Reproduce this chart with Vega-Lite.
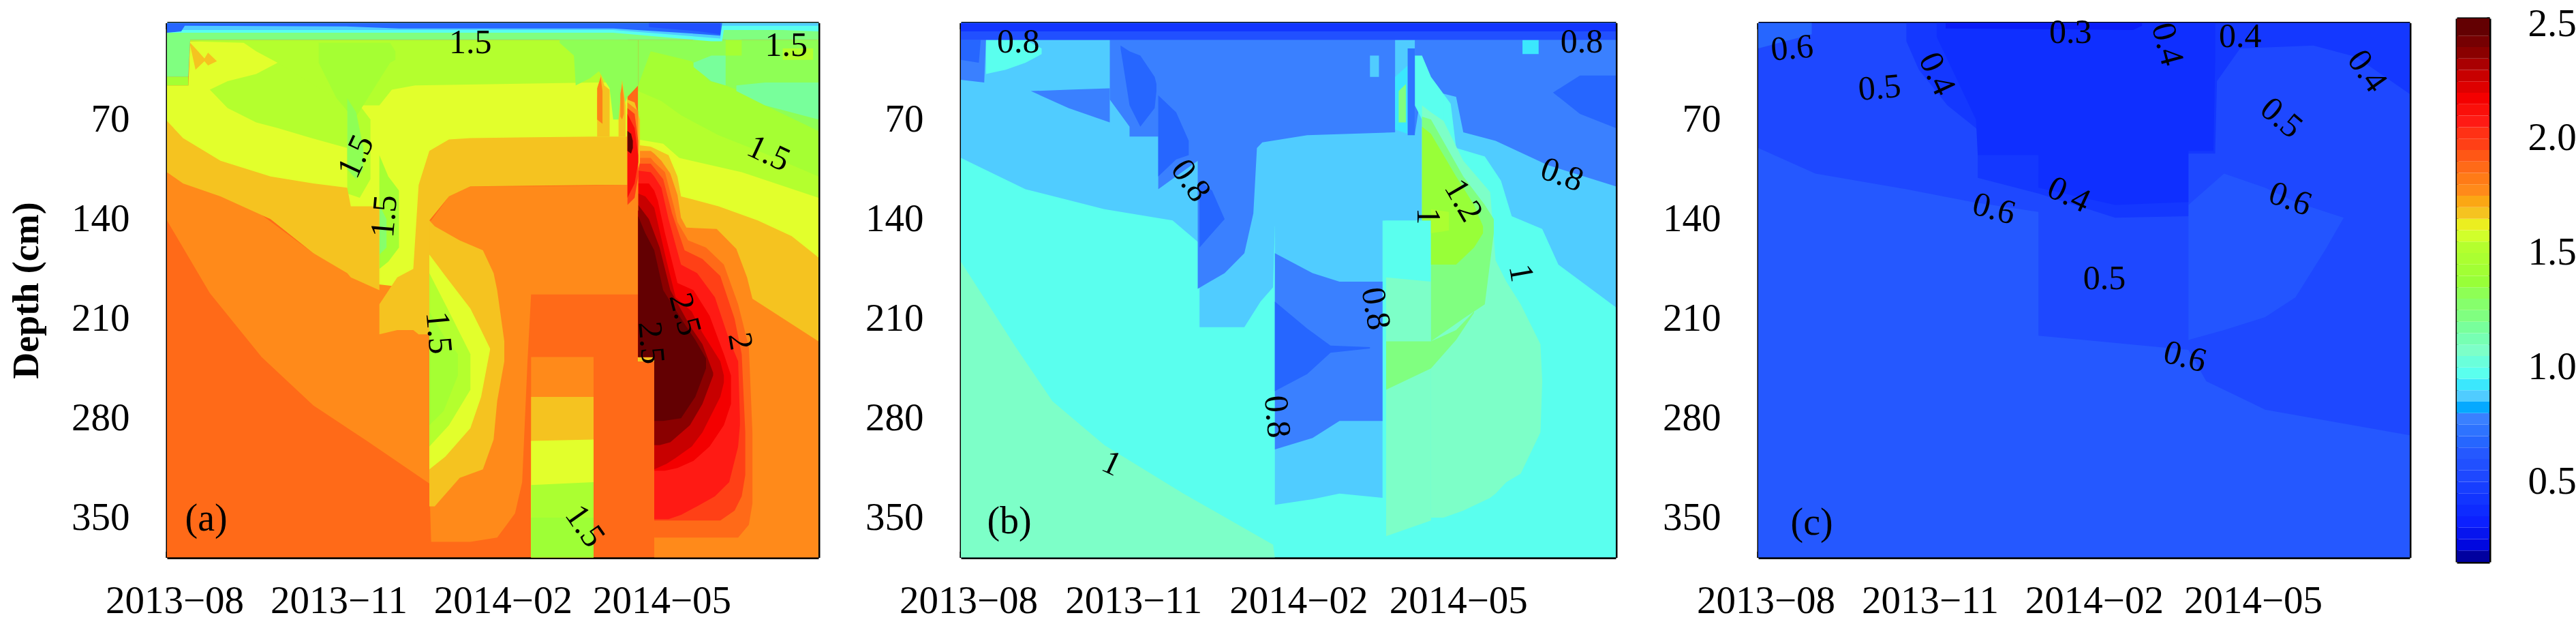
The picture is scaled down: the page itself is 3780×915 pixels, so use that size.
{"$schema":"https://vega.github.io/schema/vega-lite/v6.json","background":"white","padding":{"left":12,"top":6,"right":0,"bottom":0},
"config":{"view":{"stroke":null},"axis":{"grid":false,"labelFont":"Liberation Serif","labelFontSize":57,"labelColor":"black","labelLimit":400,"domainColor":"black","domainWidth":4,"tickColor":"black","tickWidth":4,"zindex":1,"title":null,"labelOverlap":false,"labelBound":false,"labelFlush":false}},
"datasets":{
"a":[
{"r":"a00","v":1.85,"t":"2013-08-01","d0":2,"d1":378},{"r":"a00","v":1.85,"t":"2014-08-01","d0":2,"d1":378},
{"r":"a01","v":1.58,"t":"2013-08-01","d0":46,"d1":120},{"r":"a01","v":1.58,"t":"2013-08-13","d0":46,"d1":120},{"r":"a01","v":1.58,"t":"2013-08-14","d0":15,"d1":120},{"r":"a01","v":1.58,"t":"2013-11-10","d0":15,"d1":135},{"r":"a01","v":1.58,"t":"2013-11-28","d0":15,"d1":205},{"r":"a01","v":1.58,"t":"2013-12-26","d0":15,"d1":205},{"r":"a01","v":1.58,"t":"2013-12-26","d0":15,"d1":100},{"r":"a01","v":1.58,"t":"2014-03-29","d0":15,"d1":90},{"r":"a01","v":1.58,"t":"2014-04-16","d0":15,"d1":90},
{"r":"a02","v":1.5,"t":"2013-08-25","d0":49,"d1":49},{"r":"a02","v":1.5,"t":"2013-09-04","d0":43,"d1":62},{"r":"a02","v":1.5,"t":"2013-09-20","d0":38,"d1":72},{"r":"a02","v":1.5,"t":"2013-10-02","d0":30,"d1":76},{"r":"a02","v":1.5,"t":"2013-10-21","d0":20,"d1":83},{"r":"a02","v":1.5,"t":"2013-11-10","d0":20,"d1":90},
{"r":"a03","v":1.5,"t":"2013-08-14","d0":14,"d1":15},{"r":"a03","v":1.5,"t":"2013-09-13","d0":14,"d1":16},{"r":"a03","v":1.5,"t":"2013-09-20","d0":14,"d1":22},{"r":"a03","v":1.5,"t":"2013-10-02","d0":14,"d1":30},{"r":"a03","v":1.5,"t":"2013-11-10","d0":14,"d1":60},{"r":"a03","v":1.5,"t":"2013-11-28","d0":14,"d1":60},{"r":"a03","v":1.5,"t":"2013-12-05","d0":14,"d1":49},{"r":"a03","v":1.5,"t":"2013-12-18","d0":14,"d1":46},{"r":"a03","v":1.5,"t":"2014-03-29","d0":14,"d1":44},{"r":"a03","v":1.5,"t":"2014-04-16","d0":14,"d1":44},
{"r":"a04","v":1.5,"t":"2013-11-10","d0":50,"d1":122},{"r":"a04","v":1.5,"t":"2013-11-17","d0":60,"d1":125},{"r":"a04","v":1.5,"t":"2013-11-23","d0":70,"d1":112},
{"r":"a05","v":1.42,"t":"2013-10-25","d0":16,"d1":30},{"r":"a05","v":1.42,"t":"2013-11-04","d0":16,"d1":55},{"r":"a05","v":1.42,"t":"2013-11-14","d0":16,"d1":70},{"r":"a05","v":1.42,"t":"2013-12-04","d0":16,"d1":30},{"r":"a05","v":1.42,"t":"2013-12-07","d0":22,"d1":28},
{"r":"a06","v":1.3,"t":"2013-11-10","d0":55,"d1":105},{"r":"a06","v":1.3,"t":"2013-11-15","d0":65,"d1":112},{"r":"a06","v":1.3,"t":"2013-11-19","d0":90,"d1":105},
{"r":"a07","v":1.42,"t":"2013-11-28","d0":95,"d1":175},{"r":"a07","v":1.42,"t":"2013-12-03","d0":110,"d1":170},{"r":"a07","v":1.42,"t":"2013-12-09","d0":120,"d1":160},
{"r":"a08","v":1.25,"t":"2013-11-28","d0":130,"d1":165},{"r":"a08","v":1.25,"t":"2013-12-02","d0":140,"d1":160},
{"r":"a09","v":1.75,"t":"2013-08-01","d0":107,"d1":141},{"r":"a09","v":1.75,"t":"2013-08-25","d0":119,"d1":192},{"r":"a09","v":1.75,"t":"2013-09-23","d0":137,"d1":237},{"r":"a09","v":1.75,"t":"2013-10-22","d0":164,"d1":271},{"r":"a09","v":1.75,"t":"2013-11-21","d0":185,"d1":296},{"r":"a09","v":1.75,"t":"2013-12-26","d0":190,"d1":326},{"r":"a09","v":1.75,"t":"2013-12-26","d0":141,"d1":326},{"r":"a09","v":1.75,"t":"2013-12-27","d0":141,"d1":367},{"r":"a09","v":1.75,"t":"2014-01-06","d0":124,"d1":367},{"r":"a09","v":1.75,"t":"2014-01-18","d0":117,"d1":367},{"r":"a09","v":1.75,"t":"2014-02-02","d0":117,"d1":364},{"r":"a09","v":1.75,"t":"2014-02-12","d0":117,"d1":347},{"r":"a09","v":1.75,"t":"2014-02-16","d0":117,"d1":325},{"r":"a09","v":1.75,"t":"2014-02-19","d0":117,"d1":240},{"r":"a09","v":1.75,"t":"2014-02-21","d0":117,"d1":193},{"r":"a09","v":1.75,"t":"2014-04-22","d0":116,"d1":193},
{"r":"a10","v":1.65,"t":"2013-08-01","d0":71,"d1":107},{"r":"a10","v":1.65,"t":"2013-08-10","d0":83,"d1":115},{"r":"a10","v":1.65,"t":"2013-08-31","d0":99,"d1":124},{"r":"a10","v":1.65,"t":"2013-09-28","d0":110,"d1":140},{"r":"a10","v":1.65,"t":"2013-10-22","d0":115,"d1":164},{"r":"a10","v":1.65,"t":"2013-11-10","d0":118,"d1":178},{"r":"a10","v":1.65,"t":"2013-11-12","d0":131,"d1":181},{"r":"a10","v":1.65,"t":"2013-11-28","d0":131,"d1":190},{"r":"a10","v":1.65,"t":"2013-11-28","d0":200,"d1":221},{"r":"a10","v":1.65,"t":"2013-12-08","d0":181,"d1":218},{"r":"a10","v":1.65,"t":"2013-12-17","d0":175,"d1":218},{"r":"a10","v":1.65,"t":"2013-12-20","d0":116,"d1":221},{"r":"a10","v":1.65,"t":"2013-12-26","d0":92,"d1":221},{"r":"a10","v":1.65,"t":"2013-12-26","d0":92,"d1":141},{"r":"a10","v":1.65,"t":"2014-01-06","d0":84,"d1":124},{"r":"a10","v":1.65,"t":"2014-01-18","d0":83,"d1":117},{"r":"a10","v":1.65,"t":"2014-03-29","d0":82,"d1":116},{"r":"a10","v":1.65,"t":"2014-04-16","d0":82,"d1":116},
{"r":"a11","v":1.65,"t":"2013-12-26","d0":141,"d1":342},{"r":"a11","v":1.65,"t":"2013-12-29","d0":145,"d1":342},{"r":"a11","v":1.65,"t":"2014-01-12","d0":155,"d1":322},{"r":"a11","v":1.65,"t":"2014-01-25","d0":162,"d1":316},{"r":"a11","v":1.65,"t":"2014-01-31","d0":178,"d1":295},{"r":"a11","v":1.65,"t":"2014-02-02","d0":190,"d1":268},{"r":"a11","v":1.65,"t":"2014-02-06","d0":226,"d1":240},
{"r":"a12","v":1.58,"t":"2013-12-26","d0":165,"d1":316},{"r":"a12","v":1.58,"t":"2014-01-04","d0":180,"d1":307},{"r":"a12","v":1.58,"t":"2014-01-18","d0":203,"d1":287},{"r":"a12","v":1.58,"t":"2014-01-24","d0":218,"d1":265},{"r":"a12","v":1.58,"t":"2014-01-29","d0":231,"d1":232},
{"r":"a13","v":1.5,"t":"2013-12-26","d0":178,"d1":300},{"r":"a13","v":1.5,"t":"2014-01-06","d0":205,"d1":285},{"r":"a13","v":1.5,"t":"2014-01-18","d0":235,"d1":260},
{"r":"a14","v":1.42,"t":"2013-12-26","d0":205,"d1":285},{"r":"a14","v":1.42,"t":"2014-01-03","d0":222,"d1":275},{"r":"a14","v":1.42,"t":"2014-01-11","d0":235,"d1":250},
{"r":"a15","v":1.75,"t":"2014-02-21","d0":237,"d1":378},{"r":"a15","v":1.75,"t":"2014-03-28","d0":237,"d1":378},
{"r":"a16","v":1.65,"t":"2014-02-21","d0":265,"d1":378},{"r":"a16","v":1.65,"t":"2014-03-28","d0":265,"d1":378},
{"r":"a17","v":1.58,"t":"2014-02-21","d0":296,"d1":378},{"r":"a17","v":1.58,"t":"2014-03-28","d0":295,"d1":378},
{"r":"a18","v":1.45,"t":"2014-02-21","d0":327,"d1":378},{"r":"a18","v":1.45,"t":"2014-03-28","d0":325,"d1":378},
{"r":"a19","v":1.38,"t":"2014-02-21","d0":350,"d1":378},{"r":"a19","v":1.38,"t":"2014-03-28","d0":350,"d1":378},
{"r":"a20","v":1.3,"t":"2014-03-09","d0":14,"d1":16},{"r":"a20","v":1.3,"t":"2014-03-17","d0":14,"d1":25},{"r":"a20","v":1.3,"t":"2014-03-18","d0":14,"d1":46},{"r":"a20","v":1.3,"t":"2014-03-26","d0":14,"d1":41},{"r":"a20","v":1.3,"t":"2014-03-31","d0":14,"d1":36},{"r":"a20","v":1.3,"t":"2014-04-06","d0":14,"d1":48},{"r":"a20","v":1.3,"t":"2014-04-08","d0":14,"d1":70},{"r":"a20","v":1.3,"t":"2014-04-11","d0":14,"d1":70},{"r":"a20","v":1.3,"t":"2014-04-16","d0":14,"d1":54},{"r":"a20","v":1.3,"t":"2014-04-22","d0":14,"d1":46},
{"r":"a21","v":1.3,"t":"2014-04-22","d0":14,"d1":240},{"r":"a21","v":1.3,"t":"2014-08-01","d0":14,"d1":240},
{"r":"a22","v":1.42,"t":"2014-04-22","d0":46,"d1":240},{"r":"a22","v":1.42,"t":"2014-04-29","d0":22,"d1":240},{"r":"a22","v":1.42,"t":"2014-05-22","d0":29,"d1":240},{"r":"a22","v":1.42,"t":"2014-06-01","d0":43,"d1":240},{"r":"a22","v":1.42,"t":"2014-06-10","d0":46,"d1":240},{"r":"a22","v":1.42,"t":"2014-06-16","d0":49,"d1":240},{"r":"a22","v":1.42,"t":"2014-07-02","d0":60,"d1":240},{"r":"a22","v":1.42,"t":"2014-08-01","d0":78,"d1":240},
{"r":"a23","v":1.15,"t":"2014-05-23","d0":30,"d1":33},{"r":"a23","v":1.15,"t":"2014-06-02","d0":25,"d1":43},{"r":"a23","v":1.15,"t":"2014-06-10","d0":25,"d1":46},
{"r":"a24","v":1.15,"t":"2014-06-16","d0":46,"d1":50},{"r":"a24","v":1.15,"t":"2014-07-02","d0":44,"d1":60},{"r":"a24","v":1.15,"t":"2014-08-01","d0":44,"d1":70},
{"r":"a25","v":1.5,"t":"2014-04-22","d0":50,"d1":240},{"r":"a25","v":1.5,"t":"2014-05-05","d0":57,"d1":240},{"r":"a25","v":1.5,"t":"2014-05-16","d0":67,"d1":240},{"r":"a25","v":1.5,"t":"2014-06-06","d0":81,"d1":240},{"r":"a25","v":1.5,"t":"2014-07-02","d0":94,"d1":240},{"r":"a25","v":1.5,"t":"2014-08-01","d0":110,"d1":240},
{"r":"a26","v":1.58,"t":"2014-04-22","d0":84,"d1":240},{"r":"a26","v":1.58,"t":"2014-05-06","d0":87,"d1":240},{"r":"a26","v":1.58,"t":"2014-05-15","d0":97,"d1":240},{"r":"a26","v":1.58,"t":"2014-06-19","d0":107,"d1":240},{"r":"a26","v":1.58,"t":"2014-08-01","d0":125,"d1":240},
{"r":"a27","v":1.65,"t":"2014-04-22","d0":88,"d1":240},{"r":"a27","v":1.65,"t":"2014-04-29","d0":89,"d1":240},{"r":"a27","v":1.65,"t":"2014-05-09","d0":95,"d1":240},{"r":"a27","v":1.65,"t":"2014-05-14","d0":110,"d1":240},{"r":"a27","v":1.65,"t":"2014-05-16","d0":124,"d1":240},{"r":"a27","v":1.65,"t":"2014-06-06","d0":131,"d1":240},{"r":"a27","v":1.65,"t":"2014-06-28","d0":141,"d1":240},{"r":"a27","v":1.65,"t":"2014-07-17","d0":152,"d1":240},{"r":"a27","v":1.65,"t":"2014-08-01","d0":167,"d1":240},
{"r":"a28","v":1.75,"t":"2014-04-22","d0":92,"d1":237},{"r":"a28","v":1.75,"t":"2014-04-29","d0":92,"d1":237},{"r":"a28","v":1.75,"t":"2014-05-01","d0":94,"d1":237},{"r":"a28","v":1.75,"t":"2014-05-01","d0":94,"d1":378},{"r":"a28","v":1.75,"t":"2014-05-05","d0":99,"d1":378},{"r":"a28","v":1.75,"t":"2014-05-10","d0":108,"d1":378},{"r":"a28","v":1.75,"t":"2014-05-14","d0":123,"d1":378},{"r":"a28","v":1.75,"t":"2014-05-16","d0":139,"d1":378},{"r":"a28","v":1.75,"t":"2014-05-19","d0":146,"d1":378},{"r":"a28","v":1.75,"t":"2014-06-05","d0":147,"d1":378},{"r":"a28","v":1.75,"t":"2014-06-16","d0":161,"d1":378},{"r":"a28","v":1.75,"t":"2014-06-22","d0":181,"d1":378},{"r":"a28","v":1.75,"t":"2014-06-25","d0":196,"d1":378},{"r":"a28","v":1.75,"t":"2014-08-01","d0":226,"d1":378},
{"r":"a29","v":1.85,"t":"2014-04-22","d0":97,"d1":237},{"r":"a29","v":1.85,"t":"2014-04-29","d0":97,"d1":237},{"r":"a29","v":1.85,"t":"2014-05-01","d0":100,"d1":237},{"r":"a29","v":1.85,"t":"2014-05-01","d0":100,"d1":364},{"r":"a29","v":1.85,"t":"2014-05-07","d0":107,"d1":364},{"r":"a29","v":1.85,"t":"2014-05-12","d0":131,"d1":364},{"r":"a29","v":1.85,"t":"2014-05-14","d0":142,"d1":364},{"r":"a29","v":1.85,"t":"2014-05-20","d0":155,"d1":364},{"r":"a29","v":1.85,"t":"2014-05-30","d0":160,"d1":364},{"r":"a29","v":1.85,"t":"2014-06-09","d0":172,"d1":364},{"r":"a29","v":1.85,"t":"2014-06-17","d0":200,"d1":364},{"r":"a29","v":1.85,"t":"2014-06-23","d0":230,"d1":355},{"r":"a29","v":1.85,"t":"2014-06-25","d0":290,"d1":340},
{"r":"a30","v":1.95,"t":"2014-04-22","d0":101,"d1":237},{"r":"a30","v":1.95,"t":"2014-04-29","d0":101,"d1":237},{"r":"a30","v":1.95,"t":"2014-05-01","d0":104,"d1":237},{"r":"a30","v":1.95,"t":"2014-05-01","d0":104,"d1":352},{"r":"a30","v":1.95,"t":"2014-05-06","d0":112,"d1":352},{"r":"a30","v":1.95,"t":"2014-05-11","d0":136,"d1":352},{"r":"a30","v":1.95,"t":"2014-05-18","d0":162,"d1":352},{"r":"a30","v":1.95,"t":"2014-05-28","d0":168,"d1":352},{"r":"a30","v":1.95,"t":"2014-06-07","d0":180,"d1":352},{"r":"a30","v":1.95,"t":"2014-06-15","d0":210,"d1":345},{"r":"a30","v":1.95,"t":"2014-06-19","d0":235,"d1":335},{"r":"a30","v":1.95,"t":"2014-06-21","d0":290,"d1":320},
{"r":"a31","v":2.05,"t":"2014-04-22","d0":106,"d1":237},{"r":"a31","v":2.05,"t":"2014-04-29","d0":107,"d1":237},{"r":"a31","v":2.05,"t":"2014-05-01","d0":110,"d1":237},{"r":"a31","v":2.05,"t":"2014-05-01","d0":110,"d1":351},{"r":"a31","v":2.05,"t":"2014-05-05","d0":118,"d1":351},{"r":"a31","v":2.05,"t":"2014-05-09","d0":140,"d1":351},{"r":"a31","v":2.05,"t":"2014-05-16","d0":172,"d1":348},{"r":"a31","v":2.05,"t":"2014-05-25","d0":178,"d1":342},{"r":"a31","v":2.05,"t":"2014-06-04","d0":195,"d1":335},{"r":"a31","v":2.05,"t":"2014-06-12","d0":225,"d1":325},{"r":"a31","v":2.05,"t":"2014-06-17","d0":240,"d1":300},{"r":"a31","v":2.05,"t":"2014-06-18","d0":280,"d1":285},
{"r":"a32","v":2.15,"t":"2014-04-22","d0":115,"d1":237},{"r":"a32","v":2.15,"t":"2014-04-28","d0":115,"d1":237},{"r":"a32","v":2.15,"t":"2014-05-01","d0":120,"d1":237},{"r":"a32","v":2.15,"t":"2014-05-01","d0":120,"d1":317},{"r":"a32","v":2.15,"t":"2014-05-03","d0":127,"d1":317},{"r":"a32","v":2.15,"t":"2014-05-07","d0":150,"d1":317},{"r":"a32","v":2.15,"t":"2014-05-14","d0":185,"d1":315},{"r":"a32","v":2.15,"t":"2014-05-23","d0":190,"d1":310},{"r":"a32","v":2.15,"t":"2014-06-01","d0":208,"d1":300},{"r":"a32","v":2.15,"t":"2014-06-09","d0":235,"d1":285},{"r":"a32","v":2.15,"t":"2014-06-13","d0":250,"d1":270},
{"r":"a33","v":2.25,"t":"2014-04-22","d0":122,"d1":237},{"r":"a33","v":2.25,"t":"2014-04-26","d0":124,"d1":237},{"r":"a33","v":2.25,"t":"2014-05-01","d0":132,"d1":237},{"r":"a33","v":2.25,"t":"2014-05-01","d0":132,"d1":316},{"r":"a33","v":2.25,"t":"2014-05-08","d0":170,"d1":312},{"r":"a33","v":2.25,"t":"2014-05-13","d0":195,"d1":308},{"r":"a33","v":2.25,"t":"2014-05-22","d0":205,"d1":300},{"r":"a33","v":2.25,"t":"2014-05-28","d0":220,"d1":290},{"r":"a33","v":2.25,"t":"2014-06-07","d0":240,"d1":265},{"r":"a33","v":2.25,"t":"2014-06-09","d0":250,"d1":255},
{"r":"a34","v":2.35,"t":"2014-04-22","d0":130,"d1":237},{"r":"a34","v":2.35,"t":"2014-04-28","d0":140,"d1":237},{"r":"a34","v":2.35,"t":"2014-05-01","d0":150,"d1":237},{"r":"a34","v":2.35,"t":"2014-05-01","d0":150,"d1":299},{"r":"a34","v":2.35,"t":"2014-05-04","d0":160,"d1":299},{"r":"a34","v":2.35,"t":"2014-05-10","d0":190,"d1":297},{"r":"a34","v":2.35,"t":"2014-05-21","d0":215,"d1":285},{"r":"a34","v":2.35,"t":"2014-05-28","d0":228,"d1":270},{"r":"a34","v":2.35,"t":"2014-06-03","d0":248,"d1":250},
{"r":"a35","v":2.45,"t":"2014-04-22","d0":138,"d1":237},{"r":"a35","v":2.45,"t":"2014-04-26","d0":150,"d1":237},{"r":"a35","v":2.45,"t":"2014-05-01","d0":162,"d1":237},{"r":"a35","v":2.45,"t":"2014-05-01","d0":162,"d1":282},{"r":"a35","v":2.45,"t":"2014-05-06","d0":190,"d1":282},{"r":"a35","v":2.45,"t":"2014-05-16","d0":210,"d1":280},{"r":"a35","v":2.45,"t":"2014-05-24","d0":225,"d1":265},{"r":"a35","v":2.45,"t":"2014-05-30","d0":238,"d1":245},
{"r":"a36","v":1.65,"t":"2014-04-16","d0":56,"d1":116},{"r":"a36","v":1.65,"t":"2014-04-20","d0":58,"d1":116},{"r":"a36","v":1.65,"t":"2014-04-23","d0":70,"d1":100},
{"r":"a37","v":1.75,"t":"2014-04-16","d0":58,"d1":134},{"r":"a37","v":1.75,"t":"2014-04-20","d0":62,"d1":134},{"r":"a37","v":1.75,"t":"2014-04-22","d0":64,"d1":134},
{"r":"a38","v":1.95,"t":"2014-04-16","d0":62,"d1":130},{"r":"a38","v":1.95,"t":"2014-04-20","d0":66,"d1":125},{"r":"a38","v":1.95,"t":"2014-04-22","d0":85,"d1":110},
{"r":"a39","v":2.1,"t":"2014-04-16","d0":66,"d1":125},{"r":"a39","v":2.1,"t":"2014-04-20","d0":76,"d1":115},{"r":"a39","v":2.1,"t":"2014-04-22","d0":95,"d1":100},
{"r":"a40","v":2.45,"t":"2014-04-16","d0":78,"d1":92},{"r":"a40","v":2.45,"t":"2014-04-18","d0":80,"d1":94},{"r":"a40","v":2.45,"t":"2014-04-19","d0":85,"d1":90},
{"r":"a41","v":1.65,"t":"2014-03-30","d0":55,"d1":82},{"r":"a41","v":1.65,"t":"2014-04-01","d0":38,"d1":82},{"r":"a41","v":1.65,"t":"2014-04-03","d0":46,"d1":82},{"r":"a41","v":1.65,"t":"2014-04-06","d0":49,"d1":82},
{"r":"a42","v":1.78,"t":"2014-03-30","d0":48,"d1":70},{"r":"a42","v":1.78,"t":"2014-04-01","d0":40,"d1":72},{"r":"a42","v":1.78,"t":"2014-04-02","d0":50,"d1":73},
{"r":"a43","v":1.65,"t":"2014-04-11","d0":70,"d1":82},{"r":"a43","v":1.65,"t":"2014-04-13","d0":42,"d1":82},{"r":"a43","v":1.65,"t":"2014-04-15","d0":60,"d1":82},
{"r":"a44","v":1.75,"t":"2014-04-12","d0":52,"d1":68},{"r":"a44","v":1.75,"t":"2014-04-13","d0":45,"d1":70},{"r":"a44","v":1.75,"t":"2014-04-14","d0":55,"d1":66},
{"r":"a45","v":1.42,"t":"2014-06-10","d0":14,"d1":25},{"r":"a45","v":1.42,"t":"2014-06-19","d0":14,"d1":25},
{"r":"a46","v":1.5,"t":"2014-07-12","d0":20,"d1":28},{"r":"a46","v":1.5,"t":"2014-07-29","d0":20,"d1":28},
{"r":"a47","v":1.65,"t":"2013-08-14","d0":16,"d1":18},{"r":"a47","v":1.65,"t":"2013-08-17","d0":20,"d1":35},{"r":"a47","v":1.65,"t":"2013-08-22","d0":27,"d1":29},{"r":"a47","v":1.65,"t":"2013-08-24","d0":23,"d1":32},{"r":"a47","v":1.65,"t":"2013-08-29","d0":29,"d1":29},
{"r":"a48","v":1.2,"t":"2013-08-01","d0":2,"d1":40},{"r":"a48","v":1.2,"t":"2013-08-13","d0":2,"d1":40},{"r":"a48","v":1.2,"t":"2013-08-14","d0":2,"d1":14},{"r":"a48","v":1.2,"t":"2014-08-01","d0":2,"d1":14},
{"r":"a49","v":1.42,"t":"2013-08-01","d0":40,"d1":46},{"r":"a49","v":1.42,"t":"2013-08-13","d0":40,"d1":46},
{"r":"a50","v":0.95,"t":"2013-08-01","d0":2,"d1":9},{"r":"a50","v":0.95,"t":"2014-04-08","d0":2,"d1":9},{"r":"a50","v":0.95,"t":"2014-06-02","d0":2,"d1":15},{"r":"a50","v":0.95,"t":"2014-06-08","d0":2,"d1":15},{"r":"a50","v":0.95,"t":"2014-06-09","d0":2,"d1":7},{"r":"a50","v":0.95,"t":"2014-07-12","d0":2,"d1":7},{"r":"a50","v":0.95,"t":"2014-08-01","d0":2,"d1":8},
{"r":"a51","v":0.85,"t":"2013-08-01","d0":2,"d1":7},{"r":"a51","v":0.85,"t":"2014-04-08","d0":2,"d1":7},{"r":"a51","v":0.85,"t":"2014-06-07","d0":2,"d1":13},{"r":"a51","v":0.85,"t":"2014-06-08","d0":2,"d1":4},{"r":"a51","v":0.85,"t":"2014-08-01","d0":2,"d1":4},
{"r":"a52","v":0.65,"t":"2013-08-01","d0":2,"d1":9},{"r":"a52","v":0.65,"t":"2013-08-09","d0":2,"d1":8},{"r":"a52","v":0.65,"t":"2013-08-11","d0":2,"d1":4},{"r":"a52","v":0.65,"t":"2013-11-09","d0":2,"d1":4.5},{"r":"a52","v":0.65,"t":"2013-12-09","d0":2,"d1":6},{"r":"a52","v":0.65,"t":"2014-04-08","d0":2,"d1":6},{"r":"a52","v":0.65,"t":"2014-05-28","d0":2,"d1":10},{"r":"a52","v":0.65,"t":"2014-06-07","d0":2,"d1":11},{"r":"a52","v":0.65,"t":"2014-06-08","d0":2,"d1":2.5},
{"r":"a53","v":0.55,"t":"2014-04-28","d0":2,"d1":5},{"r":"a53","v":0.55,"t":"2014-05-26","d0":2,"d1":8},{"r":"a53","v":0.55,"t":"2014-06-07","d0":2,"d1":10}
],
"b":[
{"r":"b00","v":0.95,"t":"2013-08-01","d0":2,"d1":378},{"r":"b00","v":0.95,"t":"2014-08-01","d0":2,"d1":378},
{"r":"b01","v":1.05,"t":"2013-08-01","d0":170,"d1":378},{"r":"b01","v":1.05,"t":"2013-08-31","d0":229,"d1":378},{"r":"b01","v":1.05,"t":"2013-09-21","d0":268,"d1":378},{"r":"b01","v":1.05,"t":"2013-10-20","d0":299,"d1":378},{"r":"b01","v":1.05,"t":"2013-12-03","d0":333,"d1":378},{"r":"b01","v":1.05,"t":"2014-01-22","d0":369,"d1":378},{"r":"b01","v":1.05,"t":"2014-01-23","d0":378,"d1":378},
{"r":"b02","v":0.85,"t":"2013-08-01","d0":2,"d1":97},{"r":"b02","v":0.85,"t":"2013-09-06","d0":2,"d1":119},{"r":"b02","v":0.85,"t":"2013-10-20","d0":2,"d1":133},{"r":"b02","v":0.85,"t":"2013-11-27","d0":2,"d1":141},{"r":"b02","v":0.85,"t":"2013-12-12","d0":2,"d1":157},{"r":"b02","v":0.85,"t":"2013-12-12","d0":2,"d1":216},{"r":"b02","v":0.85,"t":"2014-01-06","d0":2,"d1":216},{"r":"b02","v":0.85,"t":"2014-01-15","d0":2,"d1":198},{"r":"b02","v":0.85,"t":"2014-01-22","d0":2,"d1":188},{"r":"b02","v":0.85,"t":"2014-01-23","d0":2,"d1":145},{"r":"b02","v":0.85,"t":"2014-03-26","d0":2,"d1":141},{"r":"b02","v":0.85,"t":"2014-04-20","d0":2,"d1":141},{"r":"b02","v":0.85,"t":"2014-04-21","d0":2,"d1":52},{"r":"b02","v":0.85,"t":"2014-04-27","d0":2,"d1":52},{"r":"b02","v":0.85,"t":"2014-05-01","d0":2,"d1":59},{"r":"b02","v":0.85,"t":"2014-05-04","d0":2,"d1":90},{"r":"b02","v":0.85,"t":"2014-05-20","d0":2,"d1":96},{"r":"b02","v":0.85,"t":"2014-05-29","d0":2,"d1":113},{"r":"b02","v":0.85,"t":"2014-06-04","d0":2,"d1":138},{"r":"b02","v":0.85,"t":"2014-06-21","d0":2,"d1":147},{"r":"b02","v":0.85,"t":"2014-06-30","d0":2,"d1":172},{"r":"b02","v":0.85,"t":"2014-08-01","d0":2,"d1":202},
{"r":"b03","v":0.85,"t":"2014-01-23","d0":140,"d1":341},{"r":"b03","v":0.85,"t":"2014-02-13","d0":140,"d1":337},{"r":"b03","v":0.85,"t":"2014-02-28","d0":140,"d1":333},{"r":"b03","v":0.85,"t":"2014-03-24","d0":140,"d1":336},
{"r":"b04","v":0.75,"t":"2014-01-23","d0":164,"d1":302},{"r":"b04","v":0.75,"t":"2014-02-13","d0":178,"d1":294},{"r":"b04","v":0.75,"t":"2014-02-28","d0":184,"d1":282},{"r":"b04","v":0.75,"t":"2014-03-24","d0":184,"d1":282},
{"r":"b05","v":0.65,"t":"2014-01-23","d0":198,"d1":261},{"r":"b05","v":0.65,"t":"2014-02-10","d0":217,"d1":249},{"r":"b05","v":0.65,"t":"2014-02-23","d0":229,"d1":234},{"r":"b05","v":0.65,"t":"2014-03-17","d0":230,"d1":231},
{"r":"b06","v":0.75,"t":"2013-08-01","d0":2,"d1":42},{"r":"b06","v":0.75,"t":"2013-08-14","d0":2,"d1":44},{"r":"b06","v":0.75,"t":"2013-08-15","d0":2,"d1":14},{"r":"b06","v":0.75,"t":"2013-10-23","d0":2,"d1":14},{"r":"b06","v":0.75,"t":"2013-10-23","d0":2,"d1":56},{"r":"b06","v":0.75,"t":"2013-11-03","d0":2,"d1":75},{"r":"b06","v":0.75,"t":"2013-11-03","d0":2,"d1":82},{"r":"b06","v":0.75,"t":"2013-11-19","d0":2,"d1":82},{"r":"b06","v":0.75,"t":"2013-11-19","d0":2,"d1":119},{"r":"b06","v":0.75,"t":"2013-12-11","d0":2,"d1":99},{"r":"b06","v":0.75,"t":"2013-12-11","d0":2,"d1":189},{"r":"b06","v":0.75,"t":"2013-12-26","d0":2,"d1":178},{"r":"b06","v":0.75,"t":"2014-01-06","d0":2,"d1":164},{"r":"b06","v":0.75,"t":"2014-01-11","d0":2,"d1":136},{"r":"b06","v":0.75,"t":"2014-01-13","d0":2,"d1":90},{"r":"b06","v":0.75,"t":"2014-01-16","d0":2,"d1":86},{"r":"b06","v":0.75,"t":"2014-02-10","d0":2,"d1":81},{"r":"b06","v":0.75,"t":"2014-03-31","d0":2,"d1":79},{"r":"b06","v":0.75,"t":"2014-03-31","d0":2,"d1":14},{"r":"b06","v":0.75,"t":"2014-04-11","d0":2,"d1":14},{"r":"b06","v":0.75,"t":"2014-04-11","d0":2,"d1":80},{"r":"b06","v":0.75,"t":"2014-04-15","d0":2,"d1":48},{"r":"b06","v":0.75,"t":"2014-05-04","d0":2,"d1":54},{"r":"b06","v":0.75,"t":"2014-05-08","d0":2,"d1":79},{"r":"b06","v":0.75,"t":"2014-05-26","d0":2,"d1":85},{"r":"b06","v":0.75,"t":"2014-06-24","d0":2,"d1":102},{"r":"b06","v":0.75,"t":"2014-08-01","d0":2,"d1":117},
{"r":"b07","v":0.75,"t":"2013-09-09","d0":50,"d1":50},{"r":"b07","v":0.75,"t":"2013-09-30","d0":49,"d1":62},{"r":"b07","v":0.75,"t":"2013-10-23","d0":48,"d1":72},
{"r":"b08","v":0.95,"t":"2013-08-15","d0":14,"d1":38},{"r":"b08","v":0.95,"t":"2013-08-26","d0":14,"d1":35},{"r":"b08","v":0.95,"t":"2013-09-06","d0":14,"d1":30},{"r":"b08","v":0.95,"t":"2013-09-15","d0":20,"d1":24},
{"r":"b09","v":0.65,"t":"2013-10-29","d0":18,"d1":20},{"r":"b09","v":0.65,"t":"2013-11-03","d0":22,"d1":60},{"r":"b09","v":0.65,"t":"2013-11-09","d0":25,"d1":75},{"r":"b09","v":0.65,"t":"2013-11-17","d0":40,"d1":62},{"r":"b09","v":0.65,"t":"2013-11-18","d0":45,"d1":50},
{"r":"b10","v":0.65,"t":"2013-11-19","d0":53,"d1":110},{"r":"b10","v":0.65,"t":"2013-11-29","d0":65,"d1":98},{"r":"b10","v":0.65,"t":"2013-12-06","d0":85,"d1":95},
{"r":"b11","v":0.65,"t":"2013-12-12","d0":113,"d1":160},{"r":"b11","v":0.65,"t":"2013-12-19","d0":120,"d1":150},{"r":"b11","v":0.65,"t":"2013-12-26","d0":140,"d1":140},
{"r":"b12","v":0.65,"t":"2014-06-27","d0":51,"d1":51},{"r":"b12","v":0.65,"t":"2014-07-12","d0":39,"d1":66},{"r":"b12","v":0.65,"t":"2014-08-01","d0":39,"d1":76},
{"r":"b13","v":0.65,"t":"2013-08-01","d0":14,"d1":28},{"r":"b13","v":0.65,"t":"2013-08-11","d0":14,"d1":30},{"r":"b13","v":0.65,"t":"2013-08-12","d0":14,"d1":15},
{"r":"b14","v":0.95,"t":"2014-04-11","d0":25,"d1":60},{"r":"b14","v":0.95,"t":"2014-04-15","d0":25,"d1":70},{"r":"b14","v":0.95,"t":"2014-04-20","d0":40,"d1":70},{"r":"b14","v":0.95,"t":"2014-04-27","d0":52,"d1":75},
{"r":"b15","v":1.05,"t":"2014-03-26","d0":181,"d1":363},{"r":"b15","v":1.05,"t":"2014-04-20","d0":184,"d1":352},
{"r":"b16","v":1.05,"t":"2014-04-15","d0":60,"d1":141},{"r":"b16","v":1.05,"t":"2014-04-20","d0":65,"d1":141},{"r":"b16","v":1.05,"t":"2014-04-20","d0":65,"d1":350},{"r":"b16","v":1.05,"t":"2014-04-27","d0":71,"d1":350},{"r":"b16","v":1.05,"t":"2014-05-08","d0":99,"d1":345},{"r":"b16","v":1.05,"t":"2014-05-23","d0":121,"d1":336},{"r":"b16","v":1.05,"t":"2014-05-26","d0":169,"d1":333},{"r":"b16","v":1.05,"t":"2014-06-01","d0":184,"d1":325},{"r":"b16","v":1.05,"t":"2014-06-09","d0":200,"d1":319},{"r":"b16","v":1.05,"t":"2014-06-20","d0":228,"d1":290},{"r":"b16","v":1.05,"t":"2014-06-21","d0":254,"d1":254},
{"r":"b17","v":1.2,"t":"2014-04-15","d0":68,"d1":141},{"r":"b17","v":1.2,"t":"2014-04-20","d0":70,"d1":141},{"r":"b17","v":1.2,"t":"2014-04-20","d0":70,"d1":226},{"r":"b17","v":1.2,"t":"2014-05-08","d0":110,"d1":210},{"r":"b17","v":1.2,"t":"2014-05-20","d0":130,"d1":200},{"r":"b17","v":1.2,"t":"2014-05-25","d0":140,"d1":150},
{"r":"b18","v":1.2,"t":"2014-03-26","d0":226,"d1":260},{"r":"b18","v":1.2,"t":"2014-04-20","d0":226,"d1":245},{"r":"b18","v":1.2,"t":"2014-05-04","d0":218,"d1":225},{"r":"b18","v":1.2,"t":"2014-05-14","d0":205,"d1":206},
{"r":"b19","v":1.35,"t":"2014-04-15","d0":75,"d1":141},{"r":"b19","v":1.35,"t":"2014-04-20","d0":80,"d1":141},{"r":"b19","v":1.35,"t":"2014-04-20","d0":80,"d1":172},{"r":"b19","v":1.35,"t":"2014-05-04","d0":110,"d1":172},{"r":"b19","v":1.35,"t":"2014-05-14","d0":130,"d1":160},{"r":"b19","v":1.35,"t":"2014-05-19","d0":145,"d1":150},
{"r":"b20","v":1.45,"t":"2014-04-20","d0":133,"d1":150},{"r":"b20","v":1.45,"t":"2014-04-30","d0":135,"d1":148},
{"r":"b21","v":0.9,"t":"2014-03-31","d0":40,"d1":77},{"r":"b21","v":0.9,"t":"2014-04-07","d0":32,"d1":80},
{"r":"b22","v":1.2,"t":"2014-04-02","d0":50,"d1":72},{"r":"b22","v":1.2,"t":"2014-04-06","d0":45,"d1":72},
{"r":"b23","v":0.7,"t":"2014-04-07","d0":20,"d1":81},{"r":"b23","v":0.7,"t":"2014-04-11","d0":20,"d1":81},
{"r":"b24","v":0.85,"t":"2014-03-17","d0":25,"d1":40},{"r":"b24","v":0.85,"t":"2014-03-22","d0":25,"d1":40},
{"r":"b25","v":0.9,"t":"2014-06-10","d0":14,"d1":24},{"r":"b25","v":0.9,"t":"2014-06-19","d0":14,"d1":24},
{"r":"b26","v":0.55,"t":"2013-08-01","d0":2,"d1":14},{"r":"b26","v":0.55,"t":"2014-08-01","d0":2,"d1":14},
{"r":"b27","v":0.4,"t":"2013-08-01","d0":2,"d1":8},{"r":"b27","v":0.4,"t":"2014-08-01","d0":2,"d1":8}
],
"c":[
{"r":"c00","v":0.6,"t":"2013-08-01","d0":2,"d1":378},{"r":"c00","v":0.6,"t":"2014-08-01","d0":2,"d1":378},
{"r":"c01","v":0.5,"t":"2013-08-01","d0":2,"d1":90},{"r":"c01","v":0.5,"t":"2013-09-02","d0":2,"d1":108},{"r":"c01","v":0.5,"t":"2013-10-23","d0":2,"d1":119},{"r":"c01","v":0.5,"t":"2013-11-29","d0":2,"d1":128},{"r":"c01","v":0.5,"t":"2014-01-05","d0":2,"d1":135},{"r":"c01","v":0.5,"t":"2014-01-05","d0":2,"d1":222},{"r":"c01","v":0.5,"t":"2014-03-30","d0":2,"d1":232},{"r":"c01","v":0.5,"t":"2014-04-09","d0":2,"d1":254},{"r":"c01","v":0.5,"t":"2014-05-12","d0":2,"d1":274},{"r":"c01","v":0.5,"t":"2014-08-01","d0":2,"d1":292},
{"r":"c02","v":0.58,"t":"2014-03-30","d0":130,"d1":225},{"r":"c02","v":0.58,"t":"2014-04-19","d0":108,"d1":218},{"r":"c02","v":0.58,"t":"2014-05-12","d0":118,"d1":209},{"r":"c02","v":0.58,"t":"2014-05-29","d0":128,"d1":195},{"r":"c02","v":0.58,"t":"2014-06-15","d0":135,"d1":161},{"r":"c02","v":0.58,"t":"2014-06-25","d0":139,"d1":139},
{"r":"c03","v":0.42,"t":"2013-10-23","d0":2,"d1":15},{"r":"c03","v":0.42,"t":"2013-10-30","d0":2,"d1":35},{"r":"c03","v":0.42,"t":"2013-11-15","d0":2,"d1":60},{"r":"c03","v":0.42,"t":"2013-12-02","d0":2,"d1":77},{"r":"c03","v":0.42,"t":"2013-12-02","d0":2,"d1":111},{"r":"c03","v":0.42,"t":"2014-01-05","d0":2,"d1":122},{"r":"c03","v":0.42,"t":"2014-02-17","d0":2,"d1":139},{"r":"c03","v":0.42,"t":"2014-03-30","d0":2,"d1":138},{"r":"c03","v":0.42,"t":"2014-03-30","d0":2,"d1":94},{"r":"c03","v":0.42,"t":"2014-04-14","d0":2,"d1":94},{"r":"c03","v":0.42,"t":"2014-04-15","d0":2,"d1":43},{"r":"c03","v":0.42,"t":"2014-04-28","d0":2,"d1":20},{"r":"c03","v":0.42,"t":"2014-06-08","d0":2,"d1":18},{"r":"c03","v":0.42,"t":"2014-07-02","d0":2,"d1":26},{"r":"c03","v":0.42,"t":"2014-08-01","d0":2,"d1":52},
{"r":"c04","v":0.37,"t":"2013-11-09","d0":2,"d1":12},{"r":"c04","v":0.37,"t":"2013-12-01","d0":2,"d1":70},{"r":"c04","v":0.37,"t":"2013-12-02","d0":2,"d1":95},{"r":"c04","v":0.37,"t":"2014-01-05","d0":2,"d1":95},{"r":"c04","v":0.37,"t":"2014-01-05","d0":2,"d1":118},{"r":"c04","v":0.37,"t":"2014-02-17","d0":2,"d1":130},{"r":"c04","v":0.37,"t":"2014-03-30","d0":2,"d1":128},{"r":"c04","v":0.37,"t":"2014-03-30","d0":2,"d1":92},{"r":"c04","v":0.37,"t":"2014-04-13","d0":2,"d1":92},{"r":"c04","v":0.37,"t":"2014-04-14","d0":2,"d1":30},
{"r":"c05","v":0.28,"t":"2013-11-14","d0":2,"d1":6},{"r":"c05","v":0.28,"t":"2014-02-27","d0":2,"d1":7},{"r":"c05","v":0.28,"t":"2014-03-04","d0":2,"d1":4},
{"r":"c06","v":0.65,"t":"2013-08-01","d0":2,"d1":20},{"r":"c06","v":0.65,"t":"2013-08-31","d0":2,"d1":10}
],
"la":[
{"t":"2014-01-18","d":16,"s":"1.5","ang":0},{"t":"2014-07-14","d":18,"s":"1.5","ang":0},{"t":"2013-11-15","d":96,"s":"1.5","ang":-65},{"t":"2013-12-01","d":138,"s":"1.5","ang":-85},{"t":"2013-12-31","d":220,"s":"1.5","ang":85},{"t":"2014-03-23","d":356,"s":"1.5","ang":55},{"t":"2014-07-04","d":94,"s":"1.5","ang":25},{"t":"2014-05-18","d":207,"s":"2.5","ang":75},{"t":"2014-04-29","d":227,"s":"2.5","ang":85},{"t":"2014-06-18","d":226,"s":"2","ang":80}],
"lb":[
{"t":"2013-09-02","d":15.5,"s":"0.8","ang":0},{"t":"2014-07-13","d":15.5,"s":"0.8","ang":0},{"t":"2013-12-07","d":113,"s":"0.8","ang":55},{"t":"2014-07-02","d":109,"s":"0.8","ang":20},{"t":"2014-05-08","d":127,"s":"1.2","ang":60},{"t":"2014-04-18","d":138,"s":"1","ang":90},{"t":"2014-06-09","d":178,"s":"1","ang":80},{"t":"2014-03-20","d":203,"s":"0.8","ang":80},{"t":"2014-01-24","d":279,"s":"0.8","ang":85},{"t":"2013-10-24","d":312,"s":"1","ang":25}],
"lc":[
{"t":"2013-08-20","d":20,"s":"0.6","ang":-5},{"t":"2013-10-08","d":48,"s":"0.5","ang":-5},{"t":"2013-11-09","d":38,"s":"0.4","ang":65},{"t":"2014-01-23","d":9,"s":"0.3","ang":0},{"t":"2014-03-18","d":17,"s":"0.4","ang":75},{"t":"2014-04-28","d":12,"s":"0.4","ang":0},{"t":"2014-07-08","d":36,"s":"0.4","ang":55},{"t":"2014-05-21","d":69,"s":"0.5","ang":40},{"t":"2014-05-26","d":126,"s":"0.6","ang":20},{"t":"2013-12-11","d":133,"s":"0.6","ang":15},{"t":"2014-01-22","d":123,"s":"0.4","ang":25},{"t":"2014-02-11","d":182,"s":"0.5","ang":0},{"t":"2014-03-28","d":237,"s":"0.6","ang":15}],
"bar":[{"v":0.15,"v0":0.125,"v1":0.175},{"v":0.2,"v0":0.175,"v1":0.225},{"v":0.25,"v0":0.225,"v1":0.275},{"v":0.3,"v0":0.275,"v1":0.325},{"v":0.35,"v0":0.325,"v1":0.375},{"v":0.4,"v0":0.375,"v1":0.425},{"v":0.45,"v0":0.425,"v1":0.475},{"v":0.5,"v0":0.475,"v1":0.525},{"v":0.55,"v0":0.525,"v1":0.575},{"v":0.6,"v0":0.575,"v1":0.625},{"v":0.65,"v0":0.625,"v1":0.675},{"v":0.7,"v0":0.675,"v1":0.725},{"v":0.75,"v0":0.725,"v1":0.775},{"v":0.8,"v0":0.775,"v1":0.825},{"v":0.85,"v0":0.825,"v1":0.875},{"v":0.9,"v0":0.875,"v1":0.925},{"v":0.95,"v0":0.925,"v1":0.975},{"v":1.0,"v0":0.975,"v1":1.025},{"v":1.05,"v0":1.025,"v1":1.075},{"v":1.1,"v0":1.075,"v1":1.125},{"v":1.15,"v0":1.125,"v1":1.175},{"v":1.2,"v0":1.175,"v1":1.225},{"v":1.25,"v0":1.225,"v1":1.275},{"v":1.3,"v0":1.275,"v1":1.325},{"v":1.35,"v0":1.325,"v1":1.375},{"v":1.4,"v0":1.375,"v1":1.425},{"v":1.45,"v0":1.425,"v1":1.475},{"v":1.5,"v0":1.475,"v1":1.525},{"v":1.55,"v0":1.525,"v1":1.575},{"v":1.6,"v0":1.575,"v1":1.625},{"v":1.65,"v0":1.625,"v1":1.675},{"v":1.7,"v0":1.675,"v1":1.725},{"v":1.75,"v0":1.725,"v1":1.775},{"v":1.8,"v0":1.775,"v1":1.825},{"v":1.85,"v0":1.825,"v1":1.875},{"v":1.9,"v0":1.875,"v1":1.925},{"v":1.95,"v0":1.925,"v1":1.975},{"v":2.0,"v0":1.975,"v1":2.025},{"v":2.05,"v0":2.025,"v1":2.075},{"v":2.1,"v0":2.075,"v1":2.125},{"v":2.15,"v0":2.125,"v1":2.175},{"v":2.2,"v0":2.175,"v1":2.225},{"v":2.25,"v0":2.225,"v1":2.275},{"v":2.3,"v0":2.275,"v1":2.325},{"v":2.35,"v0":2.325,"v1":2.375},{"v":2.4,"v0":2.375,"v1":2.425},{"v":2.45,"v0":2.425,"v1":2.5}]
},
"hconcat":[
{"width":956,"height":784,"layer":[
{"data":{"name":"a"},"mark":{"type":"area","clip":true},"encoding":{"x":{"field":"t","type":"temporal","scale":{"domain":["2013-08-01","2014-08-01"]},"axis":{"orient":"bottom","values":["2013-08-01","2013-08-10","2013-08-19","2013-08-29","2013-09-07","2013-09-16","2013-09-25","2013-10-04","2013-10-14","2013-10-23","2013-11-01","2013-11-10","2013-11-19","2013-11-28","2013-12-08","2013-12-17","2013-12-26","2014-01-04","2014-01-14","2014-01-23","2014-02-01","2014-02-10","2014-02-19","2014-02-28","2014-03-09","2014-03-18","2014-03-27","2014-04-05","2014-04-14","2014-04-23","2014-05-01","2014-05-10","2014-05-19","2014-05-29","2014-06-07","2014-06-16","2014-06-25","2014-07-04","2014-07-13","2014-07-22","2014-07-31"],"labelExpr":"month(datum.value)%3==1&&date(datum.value)==1?timeFormat(datum.value,'%Y−%m'):''","tickSize":{"condition":{"test":"month(datum.value)%3==1&&date(datum.value)==1","value":-9},"value":-5},"labelPadding":45,"labelOffset":11}},"y":{"field":"d0","type":"quantitative","scale":{"domain":[2,378],"reverse":true,"nice":false,"zero":false},"axis":{"orient":"left","title":"Depth (cm)","titleFont":"Liberation Serif","titleFontSize":54,"titleFontWeight":"bold","titleColor":"black","titlePadding":38,"values":[14,28,42,56,70,84,98,112,126,140,154,168,182,196,210,224,238,252,266,280,294,308,322,336,350,364],"labelExpr":"datum.value%70==0?datum.label:''","tickSize":{"condition":{"test":"datum.value%70==0","value":-9},"value":-5},"labelPadding":64}},"y2":{"field":"d1"},"detail":{"field":"r"},"color":{"field":"v","type":"quantitative","legend":null,"scale":{"domain":[0.125,0.2,0.3,0.42,0.5,0.6,0.75,0.85,0.95,1.05,1.2,1.35,1.5,1.58,1.65,1.75,1.85,1.95,2.05,2.15,2.25,2.35,2.5],"range":["#000080","#0008e0","#0c20ff","#1438ff","#1e48ff","#2558ff","#3a80ff","#50ccff","#5affee","#7dffc8","#80ff80","#98ff38","#b4ff2e","#e2ff2c","#f5c320","#ff8a1a","#ff6a18","#ff4016","#ff1a14","#f40000","#c80000","#8a0000","#500000"]}}}},
{"data":{"name":"la"},"mark":{"type":"text","font":"Liberation Serif","fontSize":50,"color":"black"},"encoding":{"x":{"field":"t","type":"temporal","scale":{"domain":["2013-08-01","2014-08-01"]},"axis":{"orient":"top","labels":false,"values":["2013-08-01","2013-08-10","2013-08-19","2013-08-29","2013-09-07","2013-09-16","2013-09-25","2013-10-04","2013-10-14","2013-10-23","2013-11-01","2013-11-10","2013-11-19","2013-11-28","2013-12-08","2013-12-17","2013-12-26","2014-01-04","2014-01-14","2014-01-23","2014-02-01","2014-02-10","2014-02-19","2014-02-28","2014-03-09","2014-03-18","2014-03-27","2014-04-05","2014-04-14","2014-04-23","2014-05-01","2014-05-10","2014-05-19","2014-05-29","2014-06-07","2014-06-16","2014-06-25","2014-07-04","2014-07-13","2014-07-22","2014-07-31"],"tickSize":{"condition":{"test":"month(datum.value)%3==1&&date(datum.value)==1","value":-9},"value":-5}}},"y":{"field":"d","type":"quantitative","scale":{"domain":[2,378],"reverse":true,"nice":false,"zero":false},"axis":{"orient":"right","labels":false,"values":[14,28,42,56,70,84,98,112,126,140,154,168,182,196,210,224,238,252,266,280,294,308,322,336,350,364],"tickSize":{"condition":{"test":"datum.value%70==0","value":-9},"value":-5}}},"text":{"field":"s"},"angle":{"field":"ang","type":"quantitative","scale":null}}},
{"data":{"values":[{"t":"2013-08-23","d":351,"s":"(a)"}]},"mark":{"type":"text","font":"Liberation Serif","fontSize":56,"color":"black"},"encoding":{"x":{"field":"t","type":"temporal","axis":null},"y":{"field":"d","type":"quantitative","axis":null},"text":{"field":"s"}}}
],"resolve":{"axis":{"x":"independent","y":"independent"}}},
{"width":71,"height":784,"data":{"values":[]},"mark":"rect","encoding":{}},
{"width":961,"height":784,"layer":[
{"data":{"name":"b"},"mark":{"type":"area","clip":true},"encoding":{"x":{"field":"t","type":"temporal","scale":{"domain":["2013-08-01","2014-08-01"]},"axis":{"orient":"bottom","values":["2013-08-01","2013-08-10","2013-08-19","2013-08-29","2013-09-07","2013-09-16","2013-09-25","2013-10-04","2013-10-14","2013-10-23","2013-11-01","2013-11-10","2013-11-19","2013-11-28","2013-12-08","2013-12-17","2013-12-26","2014-01-04","2014-01-14","2014-01-23","2014-02-01","2014-02-10","2014-02-19","2014-02-28","2014-03-09","2014-03-18","2014-03-27","2014-04-05","2014-04-14","2014-04-23","2014-05-01","2014-05-10","2014-05-19","2014-05-29","2014-06-07","2014-06-16","2014-06-25","2014-07-04","2014-07-13","2014-07-22","2014-07-31"],"labelExpr":"month(datum.value)%3==1&&date(datum.value)==1?timeFormat(datum.value,'%Y−%m'):''","tickSize":{"condition":{"test":"month(datum.value)%3==1&&date(datum.value)==1","value":-9},"value":-5},"labelPadding":45,"labelOffset":11}},"y":{"field":"d0","type":"quantitative","scale":{"domain":[2,378],"reverse":true,"nice":false,"zero":false},"axis":{"orient":"left","values":[14,28,42,56,70,84,98,112,126,140,154,168,182,196,210,224,238,252,266,280,294,308,322,336,350,364],"labelExpr":"datum.value%70==0?datum.label:''","tickSize":{"condition":{"test":"datum.value%70==0","value":-9},"value":-5},"labelPadding":64}},"y2":{"field":"d1"},"detail":{"field":"r"},"color":{"field":"v","type":"quantitative","legend":null,"scale":{"domain":[0.125,0.2,0.3,0.42,0.5,0.6,0.75,0.85,0.95,1.05,1.2,1.35,1.5,1.58,1.65,1.75,1.85,1.95,2.05,2.15,2.25,2.35,2.5],"range":["#000080","#0008e0","#0c20ff","#1438ff","#1e48ff","#2558ff","#3a80ff","#50ccff","#5affee","#7dffc8","#80ff80","#98ff38","#b4ff2e","#e2ff2c","#f5c320","#ff8a1a","#ff6a18","#ff4016","#ff1a14","#f40000","#c80000","#8a0000","#500000"]}}}},
{"data":{"name":"lb"},"mark":{"type":"text","font":"Liberation Serif","fontSize":50,"color":"black"},"encoding":{"x":{"field":"t","type":"temporal","scale":{"domain":["2013-08-01","2014-08-01"]},"axis":{"orient":"top","labels":false,"values":["2013-08-01","2013-08-10","2013-08-19","2013-08-29","2013-09-07","2013-09-16","2013-09-25","2013-10-04","2013-10-14","2013-10-23","2013-11-01","2013-11-10","2013-11-19","2013-11-28","2013-12-08","2013-12-17","2013-12-26","2014-01-04","2014-01-14","2014-01-23","2014-02-01","2014-02-10","2014-02-19","2014-02-28","2014-03-09","2014-03-18","2014-03-27","2014-04-05","2014-04-14","2014-04-23","2014-05-01","2014-05-10","2014-05-19","2014-05-29","2014-06-07","2014-06-16","2014-06-25","2014-07-04","2014-07-13","2014-07-22","2014-07-31"],"tickSize":{"condition":{"test":"month(datum.value)%3==1&&date(datum.value)==1","value":-9},"value":-5}}},"y":{"field":"d","type":"quantitative","scale":{"domain":[2,378],"reverse":true,"nice":false,"zero":false},"axis":{"orient":"right","labels":false,"values":[14,28,42,56,70,84,98,112,126,140,154,168,182,196,210,224,238,252,266,280,294,308,322,336,350,364],"tickSize":{"condition":{"test":"datum.value%70==0","value":-9},"value":-5}}},"text":{"field":"s"},"angle":{"field":"ang","type":"quantitative","scale":null}}},
{"data":{"values":[{"t":"2013-08-28","d":353,"s":"(b)"}]},"mark":{"type":"text","font":"Liberation Serif","fontSize":56,"color":"black"},"encoding":{"x":{"field":"t","type":"temporal","axis":null},"y":{"field":"d","type":"quantitative","axis":null},"text":{"field":"s"}}}
],"resolve":{"axis":{"x":"independent","y":"independent"}}},
{"width":71,"height":784,"data":{"values":[]},"mark":"rect","encoding":{}},
{"width":956,"height":784,"layer":[
{"data":{"name":"c"},"mark":{"type":"area","clip":true},"encoding":{"x":{"field":"t","type":"temporal","scale":{"domain":["2013-08-01","2014-08-01"]},"axis":{"orient":"bottom","values":["2013-08-01","2013-08-10","2013-08-19","2013-08-29","2013-09-07","2013-09-16","2013-09-25","2013-10-04","2013-10-14","2013-10-23","2013-11-01","2013-11-10","2013-11-19","2013-11-28","2013-12-08","2013-12-17","2013-12-26","2014-01-04","2014-01-14","2014-01-23","2014-02-01","2014-02-10","2014-02-19","2014-02-28","2014-03-09","2014-03-18","2014-03-27","2014-04-05","2014-04-14","2014-04-23","2014-05-01","2014-05-10","2014-05-19","2014-05-29","2014-06-07","2014-06-16","2014-06-25","2014-07-04","2014-07-13","2014-07-22","2014-07-31"],"labelExpr":"month(datum.value)%3==1&&date(datum.value)==1?timeFormat(datum.value,'%Y−%m'):''","tickSize":{"condition":{"test":"month(datum.value)%3==1&&date(datum.value)==1","value":-9},"value":-5},"labelPadding":45,"labelOffset":11}},"y":{"field":"d0","type":"quantitative","scale":{"domain":[2,378],"reverse":true,"nice":false,"zero":false},"axis":{"orient":"left","values":[14,28,42,56,70,84,98,112,126,140,154,168,182,196,210,224,238,252,266,280,294,308,322,336,350,364],"labelExpr":"datum.value%70==0?datum.label:''","tickSize":{"condition":{"test":"datum.value%70==0","value":-9},"value":-5},"labelPadding":64}},"y2":{"field":"d1"},"detail":{"field":"r"},"color":{"field":"v","type":"quantitative","legend":null,"scale":{"domain":[0.125,0.2,0.3,0.42,0.5,0.6,0.75,0.85,0.95,1.05,1.2,1.35,1.5,1.58,1.65,1.75,1.85,1.95,2.05,2.15,2.25,2.35,2.5],"range":["#000080","#0008e0","#0c20ff","#1438ff","#1e48ff","#2558ff","#3a80ff","#50ccff","#5affee","#7dffc8","#80ff80","#98ff38","#b4ff2e","#e2ff2c","#f5c320","#ff8a1a","#ff6a18","#ff4016","#ff1a14","#f40000","#c80000","#8a0000","#500000"]}}}},
{"data":{"name":"lc"},"mark":{"type":"text","font":"Liberation Serif","fontSize":50,"color":"black"},"encoding":{"x":{"field":"t","type":"temporal","scale":{"domain":["2013-08-01","2014-08-01"]},"axis":{"orient":"top","labels":false,"values":["2013-08-01","2013-08-10","2013-08-19","2013-08-29","2013-09-07","2013-09-16","2013-09-25","2013-10-04","2013-10-14","2013-10-23","2013-11-01","2013-11-10","2013-11-19","2013-11-28","2013-12-08","2013-12-17","2013-12-26","2014-01-04","2014-01-14","2014-01-23","2014-02-01","2014-02-10","2014-02-19","2014-02-28","2014-03-09","2014-03-18","2014-03-27","2014-04-05","2014-04-14","2014-04-23","2014-05-01","2014-05-10","2014-05-19","2014-05-29","2014-06-07","2014-06-16","2014-06-25","2014-07-04","2014-07-13","2014-07-22","2014-07-31"],"tickSize":{"condition":{"test":"month(datum.value)%3==1&&date(datum.value)==1","value":-9},"value":-5}}},"y":{"field":"d","type":"quantitative","scale":{"domain":[2,378],"reverse":true,"nice":false,"zero":false},"axis":{"orient":"right","labels":false,"values":[14,28,42,56,70,84,98,112,126,140,154,168,182,196,210,224,238,252,266,280,294,308,322,336,350,364],"tickSize":{"condition":{"test":"datum.value%70==0","value":-9},"value":-5}}},"text":{"field":"s"},"angle":{"field":"ang","type":"quantitative","scale":null}}},
{"data":{"values":[{"t":"2013-08-31","d":354,"s":"(c)"}]},"mark":{"type":"text","font":"Liberation Serif","fontSize":56,"color":"black"},"encoding":{"x":{"field":"t","type":"temporal","axis":null},"y":{"field":"d","type":"quantitative","axis":null},"text":{"field":"s"}}}
],"resolve":{"axis":{"x":"independent","y":"independent"}}},
{"width":48,"height":797,"layer":[
{"data":{"name":"bar"},"mark":{"type":"rect"},"encoding":{"x":{"datum":0,"type":"quantitative","scale":{"domain":[0,1]},"axis":{"orient":"bottom","labels":false,"ticks":false}},"x2":{"datum":1},"y":{"field":"v0","type":"quantitative","scale":{"domain":[0.125,2.5],"nice":false,"zero":false},"axis":{"orient":"left","labels":false,"values":[0.5,1,1.5,2],"tickSize":-4}},"y2":{"field":"v1"},"color":{"field":"v","type":"quantitative","legend":null,"scale":{"domain":[0.125,0.2,0.3,0.42,0.5,0.6,0.75,0.85,0.95,1.05,1.2,1.35,1.5,1.58,1.65,1.75,1.85,1.95,2.05,2.15,2.25,2.35,2.5],"range":["#000080","#0008e0","#0c20ff","#1438ff","#1e48ff","#2558ff","#3a80ff","#50ccff","#5affee","#7dffc8","#80ff80","#98ff38","#b4ff2e","#e2ff2c","#f5c320","#ff8a1a","#ff6a18","#ff4016","#ff1a14","#f40000","#c80000","#8a0000","#500000"]}}}},
{"data":{"name":"bar"},"mark":{"type":"rect","opacity":0},"encoding":{"x":{"datum":0,"type":"quantitative","scale":{"domain":[0,1]},"axis":{"orient":"top","labels":false,"ticks":false}},"x2":{"datum":1},"y":{"field":"v0","type":"quantitative","scale":{"domain":[0.125,2.5],"nice":false,"zero":false},"axis":{"orient":"right","values":[0.5,1,1.5,2,2.5],"format":".1f","tickSize":-4,"labelPadding":60,"labelOffset":8}},"y2":{"field":"v1"}}}
],"resolve":{"axis":{"x":"independent","y":"independent"}}}
],"spacing":69,"bounds":"flush","center":true}
